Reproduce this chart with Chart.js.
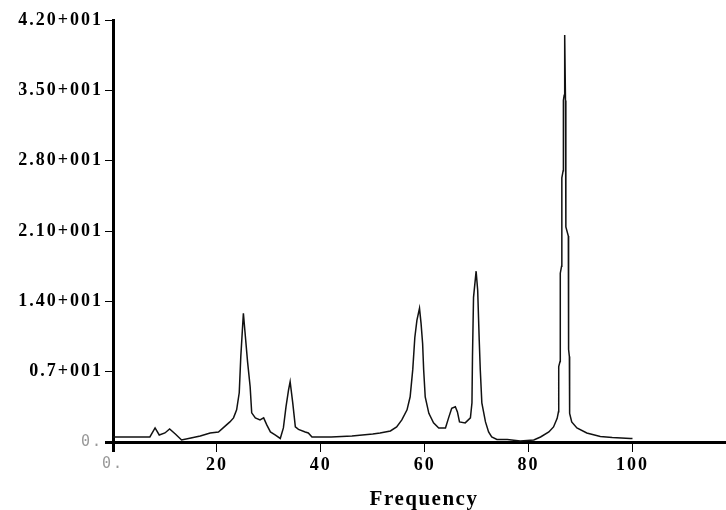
<!DOCTYPE html>
<html>
<head>
<meta charset="utf-8">
<script src="https://cdn.jsdelivr.net/npm/chart.js@4.4.1/dist/chart.umd.min.js"></script>
<style>
  html, body { margin: 0; padding: 0; background: #fff; }
  #wrap { width: 726px; height: 510px; position: relative; }
</style>
</head>
<body>
<div id="wrap"><canvas id="c"></canvas></div>
<script>
// spectrum (frequency -> amplitude)
const freq = [
  0, 7.1, 8.1, 8.9, 10.0, 10.9, 12.0, 13.2, 15.0, 16.8, 18.7, 20.3, 21.2, 22.5, 23.2,
  23.8, 24.3, 24.6, 24.9, 25.1, 25.4, 25.9, 26.4, 26.7, 27.4, 28.3, 29.0, 29.6, 30.3,
  31.2, 32.2, 32.8, 33.3, 33.8, 34.1, 34.6, 35.1, 35.7, 37.0, 37.6, 38.3, 42, 46, 50,
  51.4, 53.4, 54.6, 55.6, 56.6, 57.2, 57.7, 58.1, 58.5, 59.0, 59.3, 59.6, 59.8, 60.1,
  60.8, 61.7, 62.7, 64.0, 64.6, 65.2, 65.9, 66.3, 66.7, 67.8, 68.8, 69.1, 69.2, 69.4,
  69.9, 70.2, 70.5, 70.7, 71.0, 71.7, 72.3, 72.9, 73.9, 75.9, 78.4, 81.0, 82.3, 83.9,
  84.8, 85.5, 85.75, 85.8, 86.05, 86.1, 86.35, 86.4, 86.65, 86.7, 86.85, 86.9, 87.0,
  87.1, 87.15, 87.2, 87.65, 87.7, 87.85, 87.9, 88.3, 89.3, 91.2, 93.8, 96.1, 99.6, 100
];
const amp = [
  0.5, 0.5, 1.4, 0.7, 0.9, 1.3, 0.8, 0.2, 0.4, 0.6, 0.9, 1.0, 1.4, 2.0, 2.4,
  3.2, 4.9, 8.5, 11.1, 12.8, 11.0, 8.0, 5.5, 2.9, 2.4, 2.2, 2.4, 1.7, 1.0,
  0.7, 0.35, 1.4, 3.5, 5.2, 6.0, 3.9, 1.5, 1.25, 1.0, 0.9, 0.5, 0.5, 0.6, 0.8,
  0.9, 1.1, 1.5, 2.2, 3.2, 4.5, 7.2, 10.4, 12.1, 13.3, 11.8, 9.8, 7.2, 4.5,
  2.85, 1.9, 1.4, 1.4, 2.4, 3.35, 3.5, 3.0, 2.0, 1.9, 2.4, 3.9, 8.5, 14.4,
  17.0, 15.1, 10.1, 7.2, 3.9, 2.0, 1.0, 0.5, 0.25, 0.25, 0.1, 0.2, 0.5, 1.0,
  1.5, 2.35, 3.0, 7.5, 8.0, 16.8, 17.5, 26.3, 27.0, 34.0, 34.5, 36.0, 40.5,
  34.0, 33.0, 21.4, 20.5, 9.2, 8.5, 2.85, 2.0, 1.4, 0.9, 0.55, 0.45, 0.35, 0.35
];

const xTicks = [0, 20, 40, 60, 80, 100];
const xTickLabels = ["0.", "20", "40", "60", "80", "100"];
const yTicks = [0, 7, 14, 21, 28, 35, 42];
const yTickLabels = ["0.", "0.7+001", "1.40+001", "2.10+001", "2.80+001", "3.50+001", "4.20+001"];
const xTitle = "Frequency";

const SERIF = '"Liberation Serif", "Times New Roman", serif';
const zeroFont = { family: '"DejaVu Sans Mono", monospace', size: 15, weight: "normal" };
const tickFont = { family: SERIF, size: 18, weight: "bold" };

const isZero = (c) => c.tick && c.tick.value === 0;

// letter spacing for the old-style serif labels, plus the axis title
const textPlugin = {
  id: "textStyle",
  beforeDraw(chart) { chart.ctx.letterSpacing = "2px"; },
  afterDraw(chart) {
    const ctx = chart.ctx;
    ctx.save();
    ctx.letterSpacing = "1.5px";
    ctx.font = "bold 21px " + SERIF;
    ctx.fillStyle = "#000";
    ctx.textAlign = "center";
    ctx.textBaseline = "alphabetic";
    ctx.fillText(xTitle, 424, 505);
    ctx.restore();
    ctx.letterSpacing = "0px";
  }
};

new Chart(document.getElementById("c"), {
  type: "line",
  data: {
    datasets: [{
      data: freq.map((f, i) => ({ x: f, y: amp[i] })),
      borderColor: "#111",
      borderWidth: 1.5,
      pointRadius: 0,
      tension: 0,
      fill: false
    }]
  },
  options: {
    responsive: true,
    maintainAspectRatio: false,
    animation: false,
    layout: { padding: { top: 20, right: 0, bottom: 0, left: 0 } },
    plugins: { legend: { display: false }, tooltip: { enabled: false } },
    scales: {
      x: {
        type: "linear",
        min: 0,
        max: 118,
        afterBuildTicks: (s) => { s.ticks = xTicks.map((v) => ({ value: v })); },
        afterFit: (s) => { s.height = 68; },
        border: { color: "#000", width: 3 },
        grid: {
          drawOnChartArea: false,
          tickLength: 10,
          color: "#000",
          tickWidth: (c) => (isZero(c) ? 3 : 1)
        },
        ticks: {
          autoSkip: false,
          maxRotation: 0,
          padding: 3,
          color: (c) => (isZero(c) ? "#999" : "#000"),
          font: (c) => (isZero(c) ? zeroFont : tickFont),
          callback: (v) => xTickLabels[xTicks.indexOf(v)]
        }
      },
      y: {
        min: 0,
        max: 42,
        afterBuildTicks: (s) => { s.ticks = yTicks.map((v) => ({ value: v })); },
        afterFit: (s) => { s.width = 113; },
        border: { color: "#000", width: 3 },
        grid: {
          drawOnChartArea: false,
          tickLength: 8,
          color: "#000",
          tickWidth: (c) => (isZero(c) ? 3 : 1)
        },
        ticks: {
          autoSkip: false,
          padding: 2,
          color: (c) => (isZero(c) ? "#999" : "#000"),
          font: (c) => (isZero(c) ? zeroFont : tickFont),
          callback: (v) => yTickLabels[yTicks.indexOf(v)]
        }
      }
    }
  },
  plugins: [textPlugin]
});
</script>
</body>
</html>
